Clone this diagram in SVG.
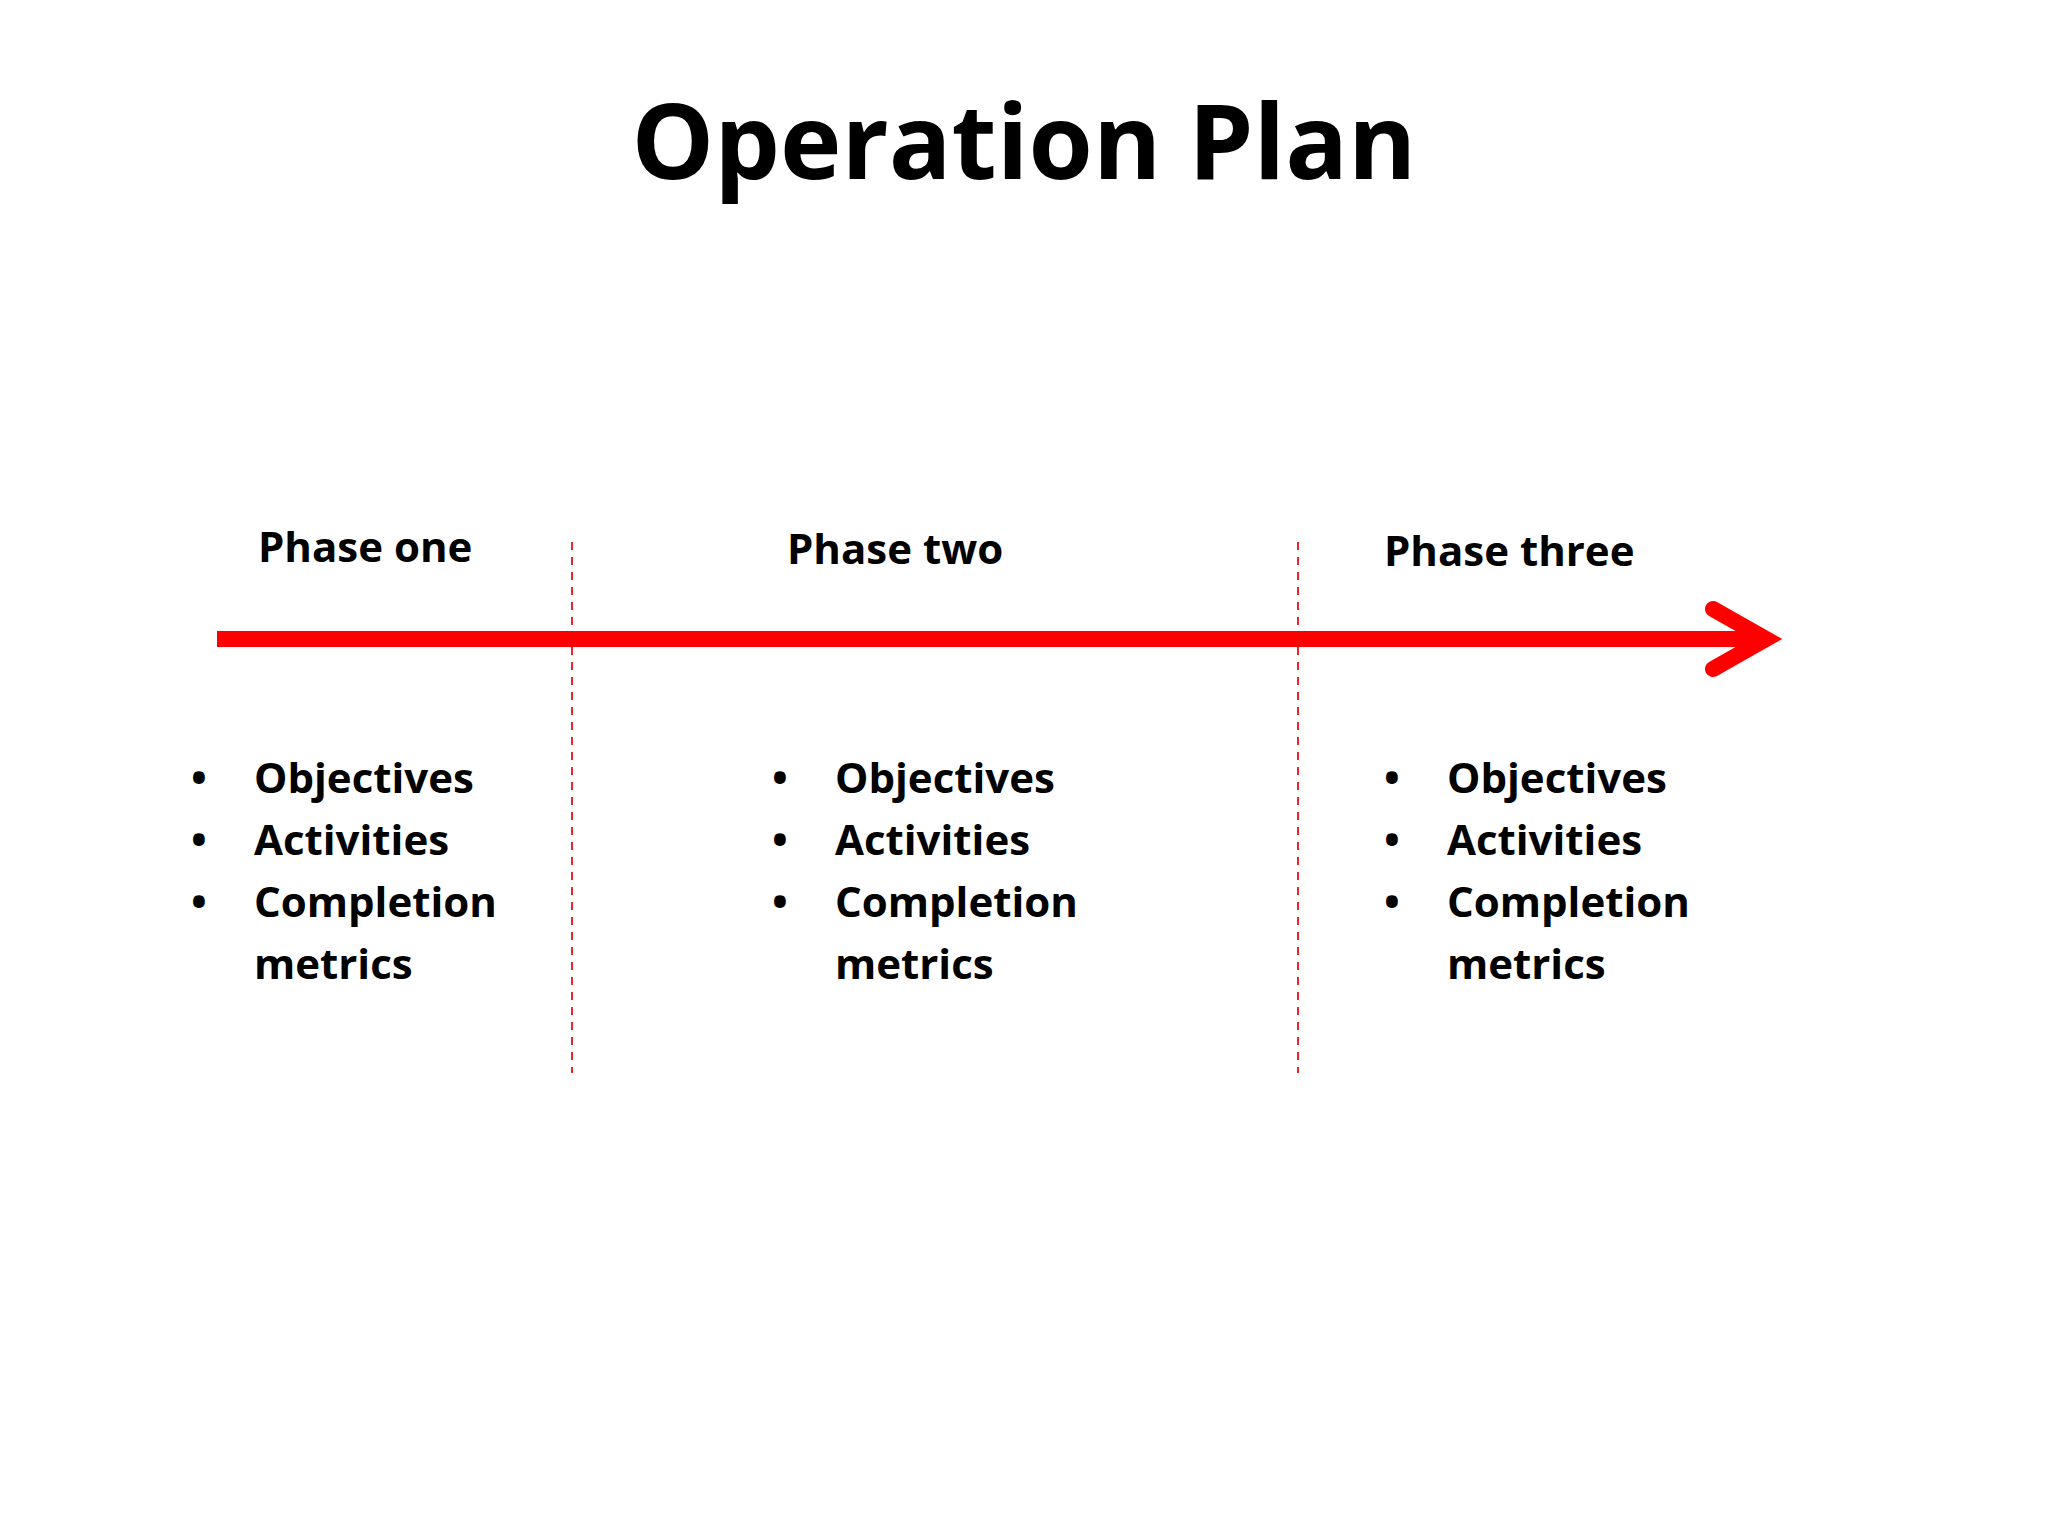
<svg xmlns="http://www.w3.org/2000/svg" width="2048" height="1536" viewBox="0 0 2048 1536">
  <style>
    .title { font-family: "Open Sans", "Noto Sans", sans-serif; font-weight: bold; font-size: 104px; fill: #000; }
    .phase { font-family: "Open Sans", "Noto Sans", sans-serif; font-weight: bold; font-size: 42px; fill: #000; }
    .item { font-family: "Open Sans", "Noto Sans", sans-serif; font-weight: bold; font-size: 42px; fill: #000; }
    .bullet { font-family: "Open Sans", "Noto Sans", sans-serif; font-weight: bold; font-size: 42px; fill: #000; text-anchor: middle; }
    .divider { stroke: #e8262b; stroke-width: 2; stroke-dasharray: 8 7; fill: none; }
    .timeline { stroke: #ff0000; stroke-width: 16; fill: none; }
  </style>
  <rect width="2048" height="1536" fill="#ffffff"/>
  <g id="title">
    <text class="title" x="1024" y="179" text-anchor="middle">Operation Plan</text>
  </g>
  <g id="connectors">
    <line class="divider" x1="572" y1="542" x2="572" y2="1073"/>
    <line class="divider" x1="1298" y1="542" x2="1298" y2="1073"/>
    <line class="timeline" x1="217" y1="639" x2="1765" y2="639"/>
    <polyline class="timeline" points="1713,609 1766,639 1713,669" stroke-linecap="round" stroke-linejoin="miter" stroke-miterlimit="10"/>
  </g>
  <g id="phase-one">
    <text class="phase" x="258" y="562">Phase one</text>
    <text class="bullet" x="199" y="793">•</text>
    <text class="item" x="254" y="793">Objectives</text>
    <text class="bullet" x="199" y="855">•</text>
    <text class="item" x="254" y="855">Activities</text>
    <text class="bullet" x="199" y="917">•</text>
    <text class="item" x="254" y="917">Completion</text>
    <text class="item" x="254" y="979">metrics</text>
  </g>
  <g id="phase-two">
    <text class="phase" x="787" y="564">Phase two</text>
    <text class="bullet" x="780" y="793">•</text>
    <text class="item" x="835" y="793">Objectives</text>
    <text class="bullet" x="780" y="855">•</text>
    <text class="item" x="835" y="855">Activities</text>
    <text class="bullet" x="780" y="917">•</text>
    <text class="item" x="835" y="917">Completion</text>
    <text class="item" x="835" y="979">metrics</text>
  </g>
  <g id="phase-three">
    <text class="phase" x="1384" y="566">Phase three</text>
    <text class="bullet" x="1392" y="793">•</text>
    <text class="item" x="1447" y="793">Objectives</text>
    <text class="bullet" x="1392" y="855">•</text>
    <text class="item" x="1447" y="855">Activities</text>
    <text class="bullet" x="1392" y="917">•</text>
    <text class="item" x="1447" y="917">Completion</text>
    <text class="item" x="1447" y="979">metrics</text>
  </g>
</svg>
